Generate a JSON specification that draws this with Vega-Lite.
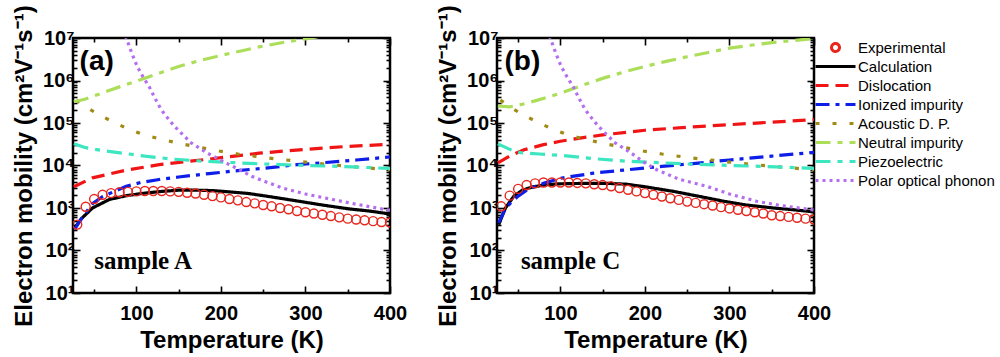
{
  "$schema": "https://vega.github.io/schema/vega-lite/v6.json",
  "padding": {"left": 11, "top": 3, "right": 0, "bottom": 0},
  "background": "white",
  "config": {
    "font": "Liberation Sans",
    "view": {"stroke": "black", "strokeWidth": 2.5},
    "concat": {"spacing": 27},
    "axis": {"domain": false, "grid": false, "tickColor": "black", "tickWidth": 1.6, "labelFont": "Liberation Sans", "labelFontWeight": "bold", "labelFontSize": 20, "labelColor": "black", "titleFont": "Liberation Sans", "titleFontWeight": "bold", "titleFontSize": 24, "titleColor": "black", "labelOverlap": false, "labelFlush": false, "labelBound": false},
    "legend": {"orient": "right", "offset": -18, "symbolSize": 1600, "clipHeight": 19, "symbolStrokeWidth": 3, "labelFont": "Liberation Sans", "labelFontSize": 15, "labelColor": "black", "labelOffset": 1, "rowPadding": 0, "padding": 0, "symbolOffset": 0, "labelLimit": 300}
  },
  "datasets": {
    "a": [
      {"series":"Experimental","T":30,"mu":407},{"series":"Experimental","T":40,"mu":1072},{"series":"Experimental","T":50,"mu":1622},{"series":"Experimental","T":60,"mu":2042},{"series":"Experimental","T":70,"mu":2239},{"series":"Experimental","T":80,"mu":2344},{"series":"Experimental","T":90,"mu":2399},{"series":"Experimental","T":100,"mu":2455},{"series":"Experimental","T":110,"mu":2512},{"series":"Experimental","T":120,"mu":2512},{"series":"Experimental","T":130,"mu":2512},{"series":"Experimental","T":140,"mu":2455},{"series":"Experimental","T":150,"mu":2399},{"series":"Experimental","T":160,"mu":2291},{"series":"Experimental","T":170,"mu":2188},{"series":"Experimental","T":180,"mu":2042},{"series":"Experimental","T":190,"mu":1905},{"series":"Experimental","T":200,"mu":1778},{"series":"Experimental","T":210,"mu":1622},{"series":"Experimental","T":220,"mu":1514},{"series":"Experimental","T":230,"mu":1380},{"series":"Experimental","T":240,"mu":1288},{"series":"Experimental","T":250,"mu":1175},{"series":"Experimental","T":260,"mu":1096},{"series":"Experimental","T":270,"mu":1000},{"series":"Experimental","T":280,"mu":933},{"series":"Experimental","T":290,"mu":851},{"series":"Experimental","T":300,"mu":794},{"series":"Experimental","T":310,"mu":741},{"series":"Experimental","T":320,"mu":692},{"series":"Experimental","T":330,"mu":646},{"series":"Experimental","T":340,"mu":603},{"series":"Experimental","T":350,"mu":562},{"series":"Experimental","T":360,"mu":537},{"series":"Experimental","T":370,"mu":513},{"series":"Experimental","T":380,"mu":490},{"series":"Experimental","T":390,"mu":468},{"series":"Experimental","T":400,"mu":457},
      {"series":"Calculation","T":27,"mu":339},{"series":"Calculation","T":35,"mu":562},{"series":"Calculation","T":48,"mu":1000},{"series":"Calculation","T":68,"mu":1585},{"series":"Calculation","T":88,"mu":1950},{"series":"Calculation","T":110,"mu":2239},{"series":"Calculation","T":130,"mu":2455},{"series":"Calculation","T":150,"mu":2630},{"series":"Calculation","T":170,"mu":2630},{"series":"Calculation","T":190,"mu":2570},{"series":"Calculation","T":210,"mu":2399},{"series":"Calculation","T":233,"mu":2188},{"series":"Calculation","T":260,"mu":1820},{"series":"Calculation","T":292,"mu":1445},{"series":"Calculation","T":320,"mu":1175},{"series":"Calculation","T":351,"mu":955},{"series":"Calculation","T":375,"mu":851},{"series":"Calculation","T":400,"mu":724},
      {"series":"Dislocation","T":26,"mu":3162},{"series":"Dislocation","T":48,"mu":5129},{"series":"Dislocation","T":70,"mu":6457},{"series":"Dislocation","T":88,"mu":7762},{"series":"Dislocation","T":127,"mu":10470},{"series":"Dislocation","T":186,"mu":14130},{"series":"Dislocation","T":245,"mu":19500},{"series":"Dislocation","T":300,"mu":23990},{"series":"Dislocation","T":350,"mu":28180},{"series":"Dislocation","T":400,"mu":31620},
      {"series":"Ionized impurity","T":27,"mu":316},{"series":"Ionized impurity","T":35,"mu":562},{"series":"Ionized impurity","T":48,"mu":1259},{"series":"Ionized impurity","T":60,"mu":1862},{"series":"Ionized impurity","T":75,"mu":2512},{"series":"Ionized impurity","T":88,"mu":3236},{"series":"Ionized impurity","T":105,"mu":3981},{"series":"Ionized impurity","T":127,"mu":4677},{"series":"Ionized impurity","T":150,"mu":5370},{"series":"Ionized impurity","T":186,"mu":6457},{"series":"Ionized impurity","T":220,"mu":7586},{"series":"Ionized impurity","T":253,"mu":8710},{"series":"Ionized impurity","T":290,"mu":10470},{"series":"Ionized impurity","T":324,"mu":11750},{"series":"Ionized impurity","T":360,"mu":13490},{"series":"Ionized impurity","T":400,"mu":15850},
      {"series":"Acoustic D. P.","T":29,"mu":346700},{"series":"Acoustic D. P.","T":40,"mu":239900},{"series":"Acoustic D. P.","T":50,"mu":182000},{"series":"Acoustic D. P.","T":60,"mu":141300},{"series":"Acoustic D. P.","T":75,"mu":100000},{"series":"Acoustic D. P.","T":88,"mu":75860},{"series":"Acoustic D. P.","T":109,"mu":52480},{"series":"Acoustic D. P.","T":131,"mu":40740},{"series":"Acoustic D. P.","T":153,"mu":32360},{"series":"Acoustic D. P.","T":174,"mu":26920},{"series":"Acoustic D. P.","T":198,"mu":21880},{"series":"Acoustic D. P.","T":220,"mu":18620},{"series":"Acoustic D. P.","T":250,"mu":15490},{"series":"Acoustic D. P.","T":300,"mu":12020},{"series":"Acoustic D. P.","T":350,"mu":9550},{"series":"Acoustic D. P.","T":400,"mu":7943},
      {"series":"Neutral impurity","T":26,"mu":316200},{"series":"Neutral impurity","T":39,"mu":363100},{"series":"Neutral impurity","T":60,"mu":512900},{"series":"Neutral impurity","T":80,"mu":707900},{"series":"Neutral impurity","T":104,"mu":1023000},{"series":"Neutral impurity","T":125,"mu":1445000},{"series":"Neutral impurity","T":150,"mu":2138000},{"series":"Neutral impurity","T":175,"mu":2951000},{"series":"Neutral impurity","T":200,"mu":3890000},{"series":"Neutral impurity","T":225,"mu":5012000},{"series":"Neutral impurity","T":245,"mu":6166000},{"series":"Neutral impurity","T":275,"mu":7943000},{"series":"Neutral impurity","T":300,"mu":9550000},{"series":"Neutral impurity","T":320,"mu":11220000},
      {"series":"Piezoelectric","T":26,"mu":32360},{"series":"Piezoelectric","T":40,"mu":26300},{"series":"Piezoelectric","T":60,"mu":22390},{"series":"Piezoelectric","T":84,"mu":19500},{"series":"Piezoelectric","T":110,"mu":16600},{"series":"Piezoelectric","T":143,"mu":14130},{"series":"Piezoelectric","T":180,"mu":12590},{"series":"Piezoelectric","T":245,"mu":10960},{"series":"Piezoelectric","T":300,"mu":10000},{"series":"Piezoelectric","T":340,"mu":9550},{"series":"Piezoelectric","T":400,"mu":8511},
      {"series":"Polar optical phonon","T":87,"mu":11220000},{"series":"Polar optical phonon","T":88,"mu":10000000},{"series":"Polar optical phonon","T":95,"mu":4169000},{"series":"Polar optical phonon","T":101,"mu":2138000},{"series":"Polar optical phonon","T":108,"mu":1202000},{"series":"Polar optical phonon","T":115,"mu":724400},{"series":"Polar optical phonon","T":121,"mu":416900},{"series":"Polar optical phonon","T":127,"mu":251200},{"series":"Polar optical phonon","T":131,"mu":186200},{"series":"Polar optical phonon","T":140,"mu":109600},{"series":"Polar optical phonon","T":149,"mu":69180},{"series":"Polar optical phonon","T":165,"mu":33880},{"series":"Polar optical phonon","T":184,"mu":19500},{"series":"Polar optical phonon","T":206,"mu":11480},{"series":"Polar optical phonon","T":222,"mu":7943},{"series":"Polar optical phonon","T":237,"mu":5495},{"series":"Polar optical phonon","T":255,"mu":3981},{"series":"Polar optical phonon","T":273,"mu":2951},{"series":"Polar optical phonon","T":300,"mu":2138},{"series":"Polar optical phonon","T":332,"mu":1585},{"series":"Polar optical phonon","T":360,"mu":1230},{"series":"Polar optical phonon","T":395,"mu":912},{"series":"Polar optical phonon","T":400,"mu":891}
    ],
    "b": [
      {"series":"Experimental","T":30,"mu":1096},{"series":"Experimental","T":40,"mu":1950},{"series":"Experimental","T":50,"mu":2818},{"series":"Experimental","T":60,"mu":3467},{"series":"Experimental","T":70,"mu":3802},{"series":"Experimental","T":80,"mu":3981},{"series":"Experimental","T":90,"mu":3981},{"series":"Experimental","T":100,"mu":3981},{"series":"Experimental","T":110,"mu":3981},{"series":"Experimental","T":120,"mu":3890},{"series":"Experimental","T":130,"mu":3802},{"series":"Experimental","T":140,"mu":3631},{"series":"Experimental","T":150,"mu":3467},{"series":"Experimental","T":160,"mu":3236},{"series":"Experimental","T":170,"mu":2951},{"series":"Experimental","T":180,"mu":2692},{"series":"Experimental","T":190,"mu":2455},{"series":"Experimental","T":200,"mu":2239},{"series":"Experimental","T":210,"mu":2042},{"series":"Experimental","T":220,"mu":1862},{"series":"Experimental","T":230,"mu":1698},{"series":"Experimental","T":240,"mu":1549},{"series":"Experimental","T":250,"mu":1413},{"series":"Experimental","T":260,"mu":1318},{"series":"Experimental","T":270,"mu":1230},{"series":"Experimental","T":280,"mu":1148},{"series":"Experimental","T":290,"mu":1047},{"series":"Experimental","T":300,"mu":977},{"series":"Experimental","T":310,"mu":912},{"series":"Experimental","T":320,"mu":851},{"series":"Experimental","T":330,"mu":794},{"series":"Experimental","T":340,"mu":741},{"series":"Experimental","T":350,"mu":676},{"series":"Experimental","T":360,"mu":646},{"series":"Experimental","T":370,"mu":617},{"series":"Experimental","T":380,"mu":589},{"series":"Experimental","T":390,"mu":562},{"series":"Experimental","T":400,"mu":537},
      {"series":"Calculation","T":27,"mu":407},{"series":"Calculation","T":35,"mu":1000},{"series":"Calculation","T":45,"mu":1905},{"series":"Calculation","T":55,"mu":2630},{"series":"Calculation","T":68,"mu":3162},{"series":"Calculation","T":85,"mu":3548},{"series":"Calculation","T":100,"mu":3715},{"series":"Calculation","T":130,"mu":3802},{"series":"Calculation","T":155,"mu":3802},{"series":"Calculation","T":178,"mu":3631},{"series":"Calculation","T":200,"mu":3162},{"series":"Calculation","T":234,"mu":2455},{"series":"Calculation","T":260,"mu":1950},{"series":"Calculation","T":293,"mu":1445},{"series":"Calculation","T":320,"mu":1175},{"series":"Calculation","T":352,"mu":1000},{"series":"Calculation","T":375,"mu":912},{"series":"Calculation","T":400,"mu":813},
      {"series":"Dislocation","T":26,"mu":11480},{"series":"Dislocation","T":40,"mu":16600},{"series":"Dislocation","T":57,"mu":23440},{"series":"Dislocation","T":80,"mu":30900},{"series":"Dislocation","T":100,"mu":37150},{"series":"Dislocation","T":125,"mu":44670},{"series":"Dislocation","T":150,"mu":52480},{"series":"Dislocation","T":200,"mu":67610},{"series":"Dislocation","T":250,"mu":79430},{"series":"Dislocation","T":300,"mu":91200},{"series":"Dislocation","T":350,"mu":104700},{"series":"Dislocation","T":400,"mu":120200},
      {"series":"Ionized impurity","T":27,"mu":447},{"series":"Ionized impurity","T":34,"mu":891},{"series":"Ionized impurity","T":41,"mu":1318},{"series":"Ionized impurity","T":50,"mu":1905},{"series":"Ionized impurity","T":61,"mu":2692},{"series":"Ionized impurity","T":80,"mu":3802},{"series":"Ionized impurity","T":100,"mu":5012},{"series":"Ionized impurity","T":139,"mu":6607},{"series":"Ionized impurity","T":179,"mu":7943},{"series":"Ionized impurity","T":220,"mu":9550},{"series":"Ionized impurity","T":260,"mu":11220},{"series":"Ionized impurity","T":300,"mu":13490},{"series":"Ionized impurity","T":350,"mu":16600},{"series":"Ionized impurity","T":400,"mu":20420},
      {"series":"Acoustic D. P.","T":29,"mu":346700},{"series":"Acoustic D. P.","T":40,"mu":239900},{"series":"Acoustic D. P.","T":50,"mu":182000},{"series":"Acoustic D. P.","T":60,"mu":141300},{"series":"Acoustic D. P.","T":75,"mu":100000},{"series":"Acoustic D. P.","T":88,"mu":75860},{"series":"Acoustic D. P.","T":109,"mu":52480},{"series":"Acoustic D. P.","T":131,"mu":40740},{"series":"Acoustic D. P.","T":153,"mu":32360},{"series":"Acoustic D. P.","T":174,"mu":26920},{"series":"Acoustic D. P.","T":198,"mu":21880},{"series":"Acoustic D. P.","T":220,"mu":18620},{"series":"Acoustic D. P.","T":250,"mu":15490},{"series":"Acoustic D. P.","T":300,"mu":12020},{"series":"Acoustic D. P.","T":350,"mu":9550},{"series":"Acoustic D. P.","T":400,"mu":7943},
      {"series":"Neutral impurity","T":26,"mu":251200},{"series":"Neutral impurity","T":40,"mu":239900},{"series":"Neutral impurity","T":55,"mu":275400},{"series":"Neutral impurity","T":70,"mu":331100},{"series":"Neutral impurity","T":85,"mu":407400},{"series":"Neutral impurity","T":100,"mu":501200},{"series":"Neutral impurity","T":125,"mu":758600},{"series":"Neutral impurity","T":150,"mu":1122000},{"series":"Neutral impurity","T":175,"mu":1585000},{"series":"Neutral impurity","T":200,"mu":2138000},{"series":"Neutral impurity","T":225,"mu":2818000},{"series":"Neutral impurity","T":250,"mu":3631000},{"series":"Neutral impurity","T":275,"mu":4571000},{"series":"Neutral impurity","T":300,"mu":5754000},{"series":"Neutral impurity","T":325,"mu":6761000},{"series":"Neutral impurity","T":350,"mu":7762000},{"series":"Neutral impurity","T":375,"mu":8710000},{"series":"Neutral impurity","T":400,"mu":9772000},
      {"series":"Piezoelectric","T":26,"mu":32360},{"series":"Piezoelectric","T":40,"mu":23990},{"series":"Piezoelectric","T":53,"mu":19950},{"series":"Piezoelectric","T":75,"mu":18620},{"series":"Piezoelectric","T":100,"mu":17380},{"series":"Piezoelectric","T":140,"mu":14450},{"series":"Piezoelectric","T":179,"mu":12590},{"series":"Piezoelectric","T":245,"mu":10960},{"series":"Piezoelectric","T":300,"mu":10000},{"series":"Piezoelectric","T":340,"mu":9550},{"series":"Piezoelectric","T":400,"mu":8511},
      {"series":"Polar optical phonon","T":87,"mu":11220000},{"series":"Polar optical phonon","T":88,"mu":10000000},{"series":"Polar optical phonon","T":95,"mu":4169000},{"series":"Polar optical phonon","T":101,"mu":2138000},{"series":"Polar optical phonon","T":108,"mu":1202000},{"series":"Polar optical phonon","T":115,"mu":724400},{"series":"Polar optical phonon","T":121,"mu":416900},{"series":"Polar optical phonon","T":127,"mu":251200},{"series":"Polar optical phonon","T":131,"mu":186200},{"series":"Polar optical phonon","T":140,"mu":109600},{"series":"Polar optical phonon","T":149,"mu":69180},{"series":"Polar optical phonon","T":165,"mu":33880},{"series":"Polar optical phonon","T":184,"mu":19500},{"series":"Polar optical phonon","T":200,"mu":11480},{"series":"Polar optical phonon","T":214,"mu":7943},{"series":"Polar optical phonon","T":240,"mu":4786},{"series":"Polar optical phonon","T":273,"mu":3236},{"series":"Polar optical phonon","T":300,"mu":2138},{"series":"Polar optical phonon","T":332,"mu":1445},{"series":"Polar optical phonon","T":360,"mu":1148},{"series":"Polar optical phonon","T":397,"mu":912},{"series":"Polar optical phonon","T":400,"mu":891}
    ],
    "notesA": [{"T":53,"mu":2750000,"label":"(a)","kind":"panel"},{"T":108,"mu":58,"label":"sample A","kind":"sample"}],
    "notesB": [{"T":55,"mu":2750000,"label":"(b)","kind":"panel"},{"T":112,"mu":58,"label":"sample C","kind":"sample"}]
  },
  "hconcat": [
    {
      "width": 317, "height": 255,
      "resolve": {"axis": {"x": "independent", "y": "independent"}},
      "layer": [
        {
          "data": {"name": "a"},
          "transform": [{"filter": "datum.series !== 'Experimental'"}],
          "mark": {"type": "line", "clip": true, "strokeWidth": 3.2},
          "encoding": {
            "x": {"field": "T", "type": "quantitative", "scale": {"domain": [25, 400], "nice": false, "zero": false},
              "axis": {"title": "Temperature (K)", "orient": "bottom", "values": [50,100,150,200,250,300,350,400], "labelExpr": "datum.value % 100 === 0 ? datum.value : ''", "tickSize": {"condition": {"test": "datum.value % 100 === 0", "value": -7}, "value": -4}, "labelPadding": 17, "titlePadding": 2}},
            "y": {"field": "mu", "type": "quantitative", "scale": {"type": "log", "domain": [10, 10000000], "nice": false},
              "axis": {"title": "Electron mobility (cm²V⁻¹s⁻¹)", "orient": "left", "values": [10,20,30,40,50,60,70,80,90,100,200,300,400,500,600,700,800,900,1000,2000,3000,4000,5000,6000,7000,8000,9000,10000,20000,30000,40000,50000,60000,70000,80000,90000,100000,200000,300000,400000,500000,600000,700000,800000,900000,1000000,2000000,3000000,4000000,5000000,6000000,7000000,8000000,9000000,10000000],
                "labelExpr": "abs(log(datum.value)/LN10 - round(log(datum.value)/LN10)) < 0.001 ? '10' + ['⁰','¹','²','³','⁴','⁵','⁶','⁷'][round(log(datum.value)/LN10)] : ''",
                "tickSize": {"condition": {"test": "abs(log(datum.value)/LN10 - round(log(datum.value)/LN10)) < 0.001", "value": -7}, "value": -4}, "labelPadding": 6, "titlePadding": 5}},
            "color": {"field": "series", "type": "nominal", "title": "series", "scale": {"domain": ["Experimental","Calculation","Dislocation","Ionized impurity","Acoustic D. P.","Neutral impurity","Piezoelectric","Polar optical phonon"], "range": ["#e8261e","#000000","#f01414","#0c1ee8","#a08c14","#acde5a","#3ce6c0","#b46ef0"]}, "legend": {"title": null}},
            "strokeDash": {"field": "series", "type": "nominal", "legend": null, "scale": {"domain": ["Experimental","Calculation","Dislocation","Ionized impurity","Acoustic D. P.","Neutral impurity","Piezoelectric","Polar optical phonon"], "range": [[1,0],[1,0],[13,7],[14,6,4,6],[4,13],[15,7,5,7],[15,7,5,7],[3,4]]}}
          }
        },
        {
          "data": {"name": "a"},
          "transform": [{"filter": "datum.series === 'Experimental'"}],
          "mark": {"type": "point", "filled": false, "opacity": 1, "size": 2025, "strokeWidth": 1.4, "clip": true, "shape": "M-0.2,0A0.2,0.2,0,1,0,0.2,0A0.2,0.2,0,1,0,-0.2,0Z"},
          "encoding": {
            "x": {"field": "T", "type": "quantitative", "axis": {"orient": "top", "title": null, "labels": false, "values": [50,100,150,200,250,300,350,400], "tickSize": {"condition": {"test": "datum.value % 100 === 0", "value": -7}, "value": -4}}},
            "y": {"field": "mu", "type": "quantitative", "axis": {"orient": "right", "title": null, "labels": false, "values": [10,20,30,40,50,60,70,80,90,100,200,300,400,500,600,700,800,900,1000,2000,3000,4000,5000,6000,7000,8000,9000,10000,20000,30000,40000,50000,60000,70000,80000,90000,100000,200000,300000,400000,500000,600000,700000,800000,900000,1000000,2000000,3000000,4000000,5000000,6000000,7000000,8000000,9000000,10000000],
              "tickSize": {"condition": {"test": "abs(log(datum.value)/LN10 - round(log(datum.value)/LN10)) < 0.001", "value": -7}, "value": -4}}},
            "color": {"field": "series", "type": "nominal", "title": "series", "legend": {"title": null}}
          }
        },
        {
          "data": {"name": "notesA"},
          "transform": [{"filter": "datum.kind === 'panel'"}],
          "mark": {"type": "text", "color": "black", "fontWeight": "bold", "font": "Liberation Sans", "fontSize": 28},
          "encoding": {
            "x": {"field": "T", "type": "quantitative", "axis": null},
            "y": {"field": "mu", "type": "quantitative", "axis": null},
            "text": {"field": "label"}
          }
        },
        {
          "data": {"name": "notesA"},
          "transform": [{"filter": "datum.kind === 'sample'"}],
          "mark": {"type": "text", "color": "black", "fontWeight": "bold", "font": "Liberation Serif", "fontSize": 25},
          "encoding": {
            "x": {"field": "T", "type": "quantitative", "axis": null},
            "y": {"field": "mu", "type": "quantitative", "axis": null},
            "text": {"field": "label"}
          }
        }
      ]
    },
    {
      "width": 317, "height": 255,
      "resolve": {"axis": {"x": "independent", "y": "independent"}},
      "layer": [
        {
          "data": {"name": "b"},
          "transform": [{"filter": "datum.series !== 'Experimental'"}],
          "mark": {"type": "line", "clip": true, "strokeWidth": 3.2},
          "encoding": {
            "x": {"field": "T", "type": "quantitative", "scale": {"domain": [25, 400], "nice": false, "zero": false},
              "axis": {"title": "Temperature (K)", "orient": "bottom", "values": [50,100,150,200,250,300,350,400], "labelExpr": "datum.value % 100 === 0 ? datum.value : ''", "tickSize": {"condition": {"test": "datum.value % 100 === 0", "value": -7}, "value": -4}, "labelPadding": 17, "titlePadding": 2}},
            "y": {"field": "mu", "type": "quantitative", "scale": {"type": "log", "domain": [10, 10000000], "nice": false},
              "axis": {"title": "Electron mobility (cm²V⁻¹s⁻¹)", "orient": "left", "values": [10,20,30,40,50,60,70,80,90,100,200,300,400,500,600,700,800,900,1000,2000,3000,4000,5000,6000,7000,8000,9000,10000,20000,30000,40000,50000,60000,70000,80000,90000,100000,200000,300000,400000,500000,600000,700000,800000,900000,1000000,2000000,3000000,4000000,5000000,6000000,7000000,8000000,9000000,10000000],
                "labelExpr": "abs(log(datum.value)/LN10 - round(log(datum.value)/LN10)) < 0.001 ? '10' + ['⁰','¹','²','³','⁴','⁵','⁶','⁷'][round(log(datum.value)/LN10)] : ''",
                "tickSize": {"condition": {"test": "abs(log(datum.value)/LN10 - round(log(datum.value)/LN10)) < 0.001", "value": -7}, "value": -4}, "labelPadding": 6, "titlePadding": 5}},
            "color": {"field": "series", "type": "nominal", "title": "series", "scale": {"domain": ["Experimental","Calculation","Dislocation","Ionized impurity","Acoustic D. P.","Neutral impurity","Piezoelectric","Polar optical phonon"], "range": ["#e8261e","#000000","#f01414","#0c1ee8","#a08c14","#acde5a","#3ce6c0","#b46ef0"]}, "legend": {"title": null}},
            "strokeDash": {"field": "series", "type": "nominal", "legend": null, "scale": {"domain": ["Experimental","Calculation","Dislocation","Ionized impurity","Acoustic D. P.","Neutral impurity","Piezoelectric","Polar optical phonon"], "range": [[1,0],[1,0],[13,7],[14,6,4,6],[4,13],[15,7,5,7],[15,7,5,7],[3,4]]}}
          }
        },
        {
          "data": {"name": "b"},
          "transform": [{"filter": "datum.series === 'Experimental'"}],
          "mark": {"type": "point", "filled": false, "opacity": 1, "size": 2025, "strokeWidth": 1.4, "clip": true},
          "encoding": {
            "x": {"field": "T", "type": "quantitative", "axis": {"orient": "top", "title": null, "labels": false, "values": [50,100,150,200,250,300,350,400], "tickSize": {"condition": {"test": "datum.value % 100 === 0", "value": -7}, "value": -4}}},
            "y": {"field": "mu", "type": "quantitative", "axis": {"orient": "right", "title": null, "labels": false, "values": [10,20,30,40,50,60,70,80,90,100,200,300,400,500,600,700,800,900,1000,2000,3000,4000,5000,6000,7000,8000,9000,10000,20000,30000,40000,50000,60000,70000,80000,90000,100000,200000,300000,400000,500000,600000,700000,800000,900000,1000000,2000000,3000000,4000000,5000000,6000000,7000000,8000000,9000000,10000000],
              "tickSize": {"condition": {"test": "abs(log(datum.value)/LN10 - round(log(datum.value)/LN10)) < 0.001", "value": -7}, "value": -4}}},
            "color": {"field": "series", "type": "nominal", "title": "series", "legend": {"title": null}},
            "shape": {"field": "series", "type": "nominal", "title": "series", "legend": {"title": null}, "scale": {"domain": ["Experimental","Calculation","Dislocation","Ionized impurity","Acoustic D. P.","Neutral impurity","Piezoelectric","Polar optical phonon"], "range": ["M-0.2,0A0.2,0.2,0,1,0,0.2,0A0.2,0.2,0,1,0,-0.2,0Z","M-1,0L1,0","M-1,0L1,0","M-1,0L1,0","M-1,0L1,0","M-1,0L1,0","M-1,0L1,0","M-1,0L1,0"]}}
          }
        },
        {
          "data": {"name": "notesB"},
          "transform": [{"filter": "datum.kind === 'panel'"}],
          "mark": {"type": "text", "color": "black", "fontWeight": "bold", "font": "Liberation Sans", "fontSize": 28},
          "encoding": {
            "x": {"field": "T", "type": "quantitative", "axis": null},
            "y": {"field": "mu", "type": "quantitative", "axis": null},
            "text": {"field": "label"}
          }
        },
        {
          "data": {"name": "notesB"},
          "transform": [{"filter": "datum.kind === 'sample'"}],
          "mark": {"type": "text", "color": "black", "fontWeight": "bold", "font": "Liberation Serif", "fontSize": 25},
          "encoding": {
            "x": {"field": "T", "type": "quantitative", "axis": null},
            "y": {"field": "mu", "type": "quantitative", "axis": null},
            "text": {"field": "label"}
          }
        }
      ]
    }
  ]
}
